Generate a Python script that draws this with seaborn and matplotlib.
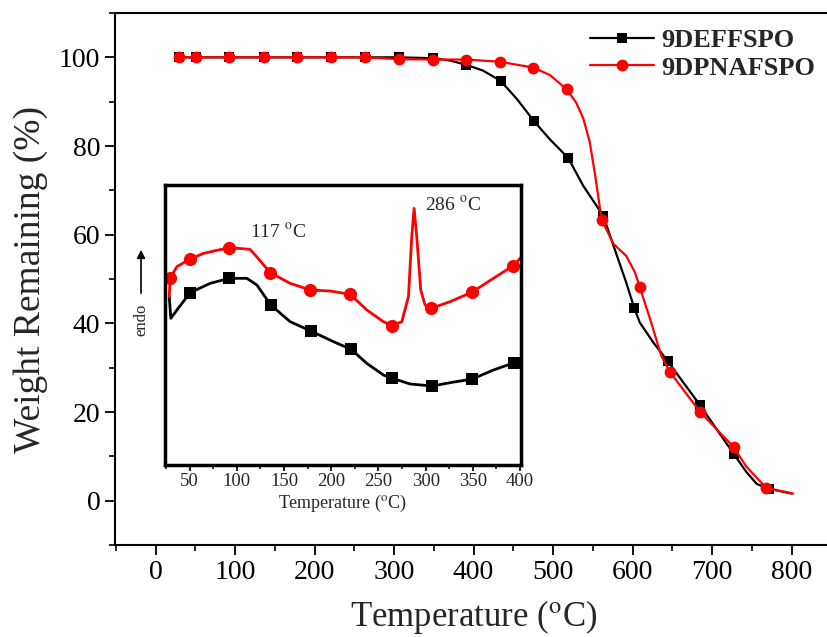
# TGA curves of the two polymers, with the DSC traces as an inset
import matplotlib
matplotlib.use("Agg")
import matplotlib.pyplot as plt
import seaborn as sns
from matplotlib.ticker import MultipleLocator

# ---- main plot data (TGA) ----
deff_temp = [30, 51, 93, 136, 178, 221, 263, 306, 349, 370, 391, 412, 434, 455, 476, 496, 519,
             538, 563, 576, 592, 602, 609, 626, 644, 685, 727, 743, 756, 771, 800]
deff_weight = [100, 100, 100, 100, 100, 100, 100, 100, 99.8, 99.3, 98.3, 97.0, 94.7, 90.5, 85.6,
               81.5, 77.3, 71.0, 64.3, 57.5, 49.2, 43.5, 40.2, 35.7, 31.5, 21.5, 10.6, 6.5, 3.8,
               2.7, 1.6]
deff_marks = [0, 1, 2, 3, 4, 5, 6, 7, 8, 10, 12, 14, 16, 18, 21, 24, 25, 26, 29]

dpna_temp = [30, 51, 93, 136, 178, 221, 263, 306, 349, 391, 433, 475, 496, 517, 529, 538, 546,
             553, 561, 576, 592, 603, 609, 622, 636, 647, 685, 727, 743, 768, 802]
dpna_weight = [100, 100, 100, 100, 100, 100, 100, 99.6, 99.5, 99.5, 99.0, 97.7, 96.0, 92.8, 89.8,
               86.2, 81.0, 73.3, 63.4, 57.9, 55.2, 51.5, 48.1, 41.0, 32.7, 29.0, 20.0, 12.1, 7.7,
               2.9, 1.6]
dpna_marks = [0, 1, 2, 3, 4, 5, 6, 7, 8, 9, 10, 11, 13, 18, 22, 25, 26, 27, 29]

# ---- inset data (DSC, arbitrary heat flow units) ----
dsc_deff_temp = [28.5, 30.2, 36.6, 50.7, 71.9, 92, 110.7, 121.3, 136, 156.5, 178.4, 202.4, 221.1,
                 237.7, 255.3, 264.9, 283.6, 307.2, 325.9, 349.5, 371.8, 394, 401]
dsc_deff_flow = [5.05, 4.4, 4.65, 5.17, 5.45, 5.6, 5.6, 5.4, 4.8, 4.3, 4.02, 3.7, 3.47,
                 3.05, 2.7, 2.6, 2.43, 2.37, 2.47, 2.58, 2.85, 3.07, 3.15]
dsc_deff_marks = [3, 5, 8, 10, 12, 15, 17, 19, 21]

dsc_dpna_temp = [28.5, 29.5, 36.6, 50, 64.8, 92, 114, 121, 135.4, 156.5, 177.7, 199, 220, 237.7,
                 255.3, 264.9, 274.8, 281.8, 285.3, 287.8, 290.6, 294.8, 299.4, 305.8, 325.9,
                 348.8, 371.8, 392.9, 401]
dsc_dpna_flow = [5.05, 5.6, 5.95, 6.17, 6.35, 6.52, 6.47, 6.25, 5.77, 5.45, 5.25, 5.22, 5.12, 4.65,
                 4.3, 4.18, 4.3, 5.05, 6.85, 7.7, 6.85, 5.25, 4.8, 4.7, 4.9, 5.18, 5.6, 5.98, 6.23]
dsc_dpna_marks = [1, 3, 5, 8, 10, 12, 15, 23, 25, 27]

sns.set_theme(style="ticks")
plt.rcParams["font.family"] = ["Liberation Serif", "DejaVu Serif"]
plt.rcParams["mathtext.fontset"] = "stix"

fig = plt.figure(figsize=(8.27, 6.37), dpi=100)
ax = fig.add_axes([0.139, 0.1444, 0.8663, 0.8352])

sns.lineplot(x=deff_temp, y=deff_weight, ax=ax, color="black", lw=1.6, sort=False,
             marker="s", markersize=7, markevery=deff_marks, markeredgewidth=0,
             label="9DEFFSPO")
sns.lineplot(x=dpna_temp, y=dpna_weight, ax=ax, color="red", lw=1.6, sort=False,
             marker="o", markersize=8.5, markevery=dpna_marks, markeredgewidth=0,
             label="9DPNAFSPO")

ax.set_xlim(-51, 850)
ax.set_ylim(-10, 110)
ax.xaxis.set_major_locator(MultipleLocator(100))
ax.xaxis.set_minor_locator(MultipleLocator(50))
ax.yaxis.set_major_locator(MultipleLocator(20))
ax.yaxis.set_minor_locator(MultipleLocator(10))
ax.tick_params(which="major", direction="out", length=7, width=1.3, labelsize=20,
               color="black", labelcolor="black")
ax.tick_params(which="minor", direction="out", length=4, width=1.2, color="black")
for s in ax.spines.values():
    s.set_linewidth(1.5)
    s.set_color("black")
ax.set_xlabel("Temperature ($^{\\rm o}$C)", fontsize=25, labelpad=10)
ax.set_ylabel("Weight Remaining (%)", fontsize=27, labelpad=8)

leg = ax.legend(loc="upper right", frameon=False, handlelength=2.4, handletextpad=0.3,
                borderaxespad=0.2, labelspacing=0.15,
                prop={"family": "Liberation Serif", "weight": "bold", "size": 19})

# ---- inset ----
ins = fig.add_axes([0.1995, 0.27, 0.4305, 0.4396])
sns.lineplot(x=dsc_deff_temp, y=dsc_deff_flow, ax=ins, color="black", lw=2, sort=False,
             marker="s", markersize=8.5, markevery=dsc_deff_marks, markeredgewidth=0,
             legend=False)
sns.lineplot(x=dsc_dpna_temp, y=dsc_dpna_flow, ax=ins, color="red", lw=2, sort=False,
             marker="o", markersize=9.5, markevery=dsc_dpna_marks, markeredgewidth=0,
             legend=False)
ins.set_xlim(24, 401)
ins.set_ylim(0, 8.4)
ins.xaxis.set_major_locator(MultipleLocator(50))
ins.xaxis.set_minor_locator(MultipleLocator(25))
ins.set_yticks([])
ins.tick_params(which="major", direction="out", length=4, width=1.5, labelsize=13.5, pad=2)
ins.tick_params(which="minor", direction="out", length=3, width=1.3)
for s in ins.spines.values():
    s.set_linewidth(2.5)
    s.set_color("black")
ins.set_xlabel("Temperature ($^{\\rm o}$C)", fontsize=13, labelpad=2)
ins.text(114, 7.0, "117 $^{\\rm o}$C", fontsize=14, ha="left", va="center")
ins.text(299, 7.8, "286 $^{\\rm o}$C", fontsize=14, ha="left", va="center")

# endo arrow left of the inset
fig.text(141 / 827, 1 - 320 / 637, "endo", rotation=90, fontsize=12, ha="center", va="center")
ax.annotate("", xy=(141 / 827, 1 - 247 / 637), xytext=(141 / 827, 1 - 296 / 637),
            xycoords="figure fraction", textcoords="figure fraction",
            arrowprops=dict(arrowstyle="-|>", color="black", lw=1.2, mutation_scale=12))

fig.savefig("out.png", dpi=100)
